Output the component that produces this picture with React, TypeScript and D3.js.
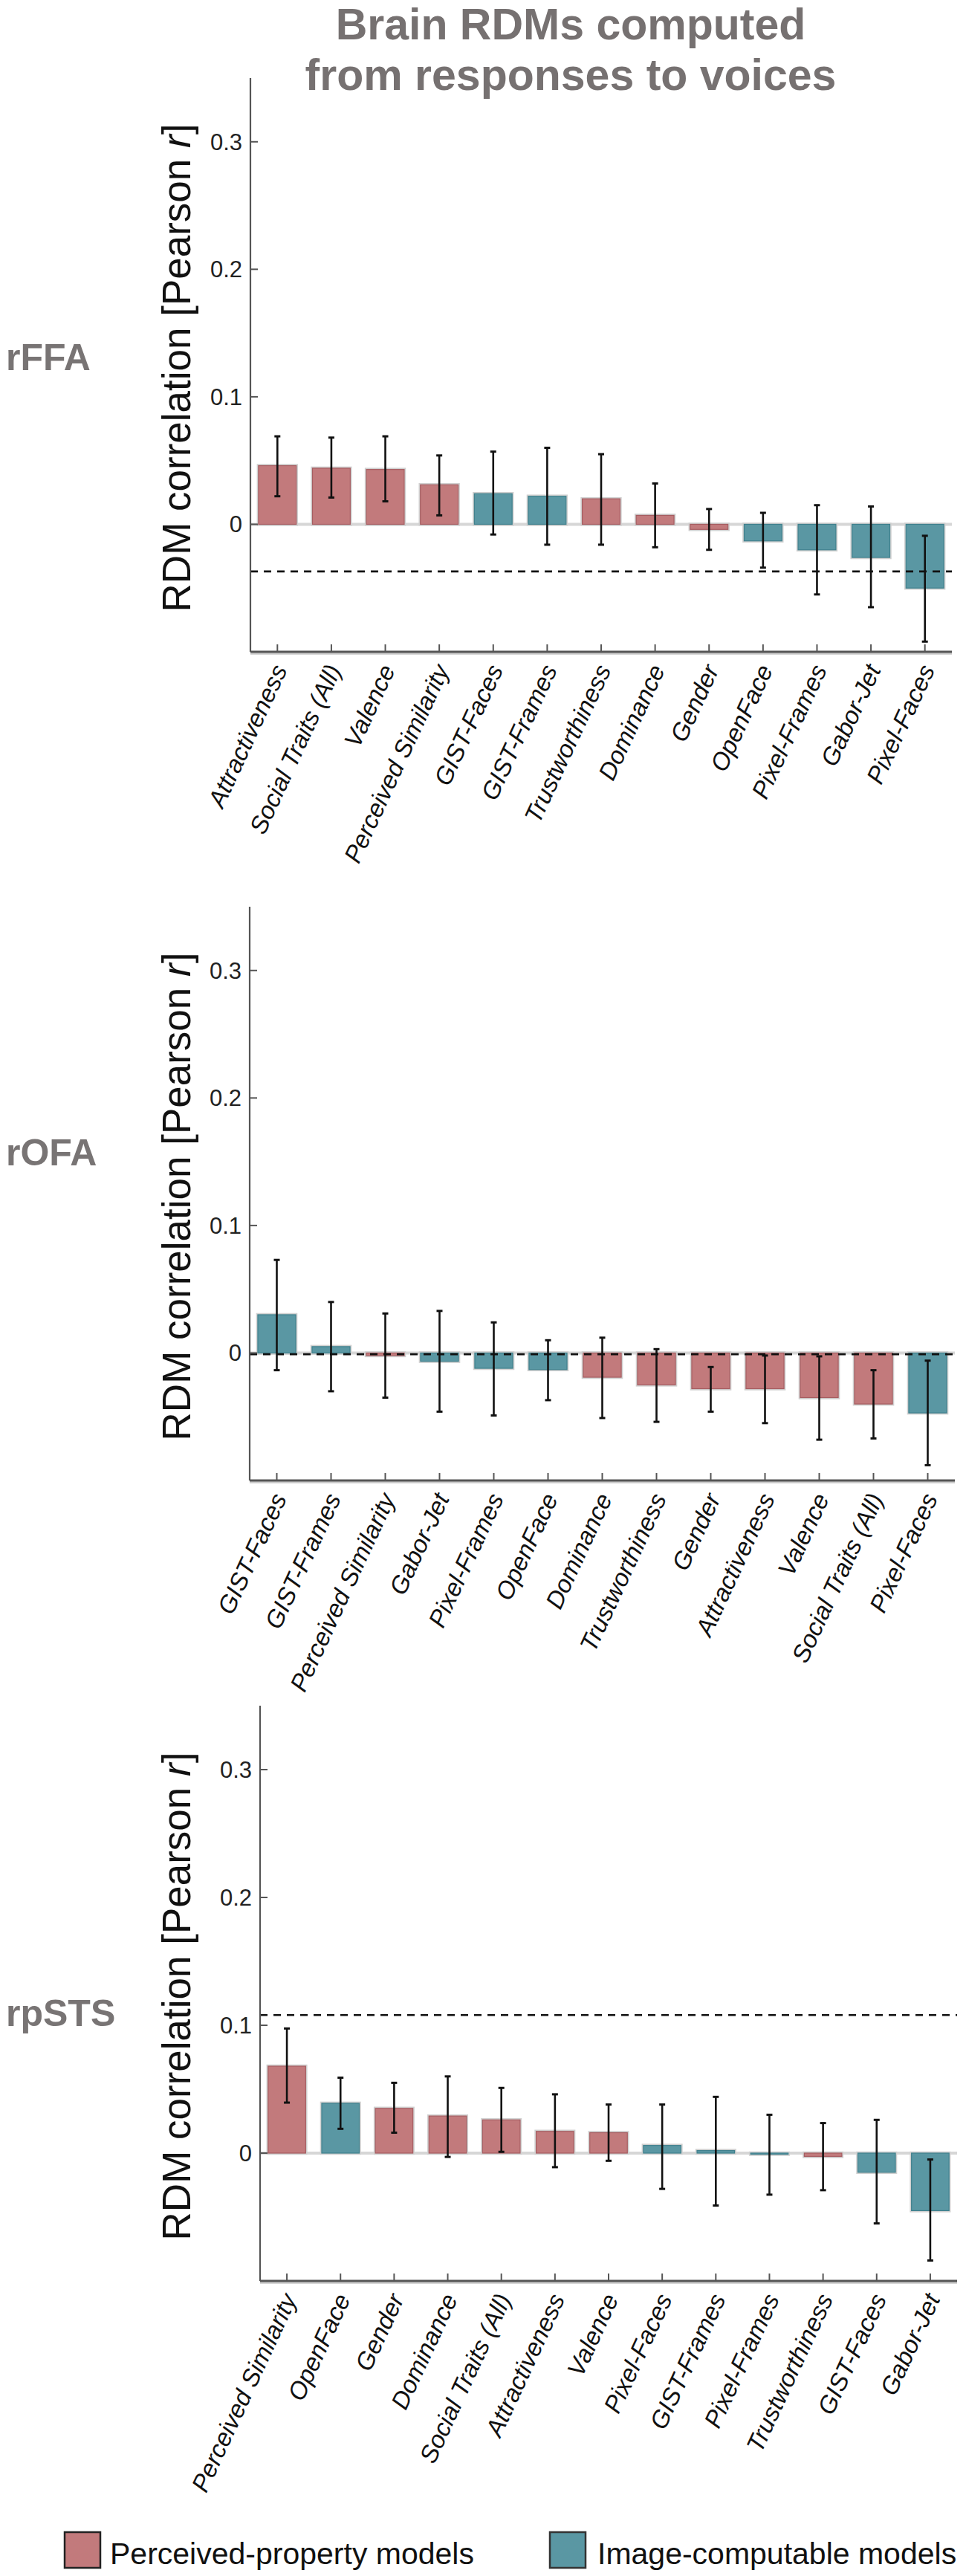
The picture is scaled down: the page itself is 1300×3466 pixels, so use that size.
import React from "react";
import * as d3 from "d3";

const regions = ["rFFA", "rOFA", "rpSTS"];

const perceivedModels = [
  "Attractiveness", "Social Traits (All)", "Valence", "Perceived Similarity",
  "Trustworthiness", "Dominance", "Gender"
];

// rFFA
const ffaModels = [
  "Attractiveness", "Social Traits (All)", "Valence", "Perceived Similarity", "GIST-Faces",
  "GIST-Frames", "Trustworthiness", "Dominance", "Gender", "OpenFace", "Pixel-Frames",
  "Gabor-Jet", "Pixel-Faces"
];
const ffaValues = [0.046, 0.044, 0.043, 0.031, 0.024, 0.022, 0.020, 0.007, -0.004, -0.013, -0.020, -0.026, -0.050];
const ffaHigh = [0.069, 0.068, 0.069, 0.054, 0.057, 0.060, 0.055, 0.032, 0.012, 0.009, 0.015, 0.014, -0.009];
const ffaLow = [0.022, 0.021, 0.018, 0.007, -0.008, -0.016, -0.016, -0.018, -0.020, -0.034, -0.055, -0.065, -0.092];
const ffaCeiling = -0.037;

// rOFA
const ofaModels = [
  "GIST-Faces", "GIST-Frames", "Perceived Similarity", "Gabor-Jet", "Pixel-Frames", "OpenFace",
  "Dominance", "Trustworthiness", "Gender", "Attractiveness", "Valence", "Social Traits (All)",
  "Pixel-Faces"
];
const ofaValues = [0.030, 0.005, -0.002, -0.0065, -0.012, -0.013, -0.019, -0.025, -0.028, -0.028, -0.035, -0.040, -0.047];
const ofaHigh = [0.073, 0.040, 0.031, 0.033, 0.024, 0.010, 0.012, 0.003, -0.011, -0.002, -0.0026, -0.0135, -0.006];
const ofaLow = [-0.0135, -0.030, -0.035, -0.046, -0.049, -0.037, -0.051, -0.054, -0.046, -0.055, -0.068, -0.067, -0.088];
const ofaCeiling = -0.001;

// rpSTS
const stsModels = [
  "Perceived Similarity", "OpenFace", "Gender", "Dominance", "Social Traits (All)", "Attractiveness",
  "Valence", "Pixel-Faces", "GIST-Frames", "Pixel-Frames", "Trustworthiness", "GIST-Faces",
  "Gabor-Jet"
];
const stsValues = [0.068, 0.039, 0.035, 0.029, 0.026, 0.017, 0.016, 0.006, 0.002, -0.0003, -0.0026, -0.015, -0.045];
const stsHigh = [0.0975, 0.059, 0.055, 0.060, 0.051, 0.046, 0.038, 0.038, 0.044, 0.030, 0.0235, 0.026, -0.005];
const stsLow = [0.0395, 0.019, 0.016, -0.003, 0.001, -0.011, -0.006, -0.028, -0.041, -0.0325, -0.029, -0.055, -0.084];
const stsCeiling = 0.108;

const yTicks = [0, 0.1, 0.2, 0.3];
const legendLabels = ["Perceived-property models", "Image-computable models"];

const RED = "#c27a7c";
const RED_EDGE = "#a65d61";
const TEAL = "#5a97a3";
const TEAL_EDGE = "#3f808d";

// layout of each axes box (pixels) and where the region name sits
const boxes = [
  { top: 105, bottom: 877, left: 337, right: 1281, labelY: 498 },
  { top: 1220, bottom: 1992, left: 336, right: 1285, labelY: 1568 },
  { top: 2295, bottom: 3069, left: 350, right: 1288, labelY: 2726 }
];

const panels = [
  { models: ffaModels, values: ffaValues, high: ffaHigh, low: ffaLow, ceiling: ffaCeiling },
  { models: ofaModels, values: ofaValues, high: ofaHigh, low: ofaLow, ceiling: ofaCeiling },
  { models: stsModels, values: stsValues, high: stsHigh, low: stsLow, ceiling: stsCeiling }
];

const FONT = "'Liberation Sans', Arial, Helvetica, sans-serif";

function Panel({ idx }: { idx: number }) {
  const p = panels[idx];
  const b = boxes[idx];
  const x = d3.scaleBand<string>()
    .domain(p.models)
    .range([b.left, b.right])
    .paddingInner(0.3)
    .paddingOuter(0.15);
  const y = d3.scaleLinear().domain([-0.1, 0.35]).range([b.bottom, b.top]);
  const bw = x.bandwidth();
  const mid = (b.top + b.bottom) / 2;
  const cap = 4;

  return (
    <g>
      <text x={8} y={b.labelY} fontFamily={FONT} fontWeight="bold" fontSize={50} fill="#787474">
        {regions[idx]}
      </text>
      <text
        transform={`translate(256,${mid + 4}) rotate(-90)`}
        textAnchor="middle"
        fontFamily={FONT}
        fontSize={53}
        fill="#111"
      >
        RDM correlation [Pearson <tspan fontStyle="italic">r</tspan>]
      </text>

      {/* zero line */}
      <line x1={b.left} x2={b.right} y1={y(0)} y2={y(0)} stroke="#d6d6d6" strokeWidth={4} />

      {p.models.map((m, i) => {
        const v = p.values[i];
        const isRed = perceivedModels.includes(m);
        const y0 = Math.min(y(v), y(0));
        const h = Math.max(Math.abs(y(v) - y(0)), 1.5);
        return (
          <g key={m}>
            <rect x={x(m)! - 1} y={y0 - 1} width={bw + 2} height={h + 2} fill="none" stroke="#d0d0d0" strokeWidth={2.5} />
            <rect
              x={x(m)}
              y={y0}
              width={bw}
              height={h}
              fill={isRed ? RED : TEAL}
              stroke={isRed ? RED_EDGE : TEAL_EDGE}
              strokeWidth={1.2}
            />
          </g>
        );
      })}

      {/* noise ceiling */}
      <line
        x1={b.left}
        x2={b.right}
        y1={y(p.ceiling)}
        y2={y(p.ceiling)}
        stroke="#111"
        strokeWidth={2.6}
        strokeDasharray="10,8"
      />

      {p.models.map((m, i) => {
        const cx = x(m)! + bw / 2;
        return (
          <g key={"e" + m} stroke="#111">
            <line x1={cx} x2={cx} y1={y(p.high[i])} y2={y(p.low[i])} strokeWidth={2.6} />
            <line x1={cx - cap} x2={cx + cap} y1={y(p.high[i])} y2={y(p.high[i])} strokeWidth={3} />
            <line x1={cx - cap} x2={cx + cap} y1={y(p.low[i])} y2={y(p.low[i])} strokeWidth={3} />
          </g>
        );
      })}

      {/* axes */}
      <line x1={b.left} x2={b.left} y1={b.top} y2={b.bottom} stroke="#555" strokeWidth={2.2} />
      <line x1={b.left} x2={b.right} y1={b.bottom + 2.5} y2={b.bottom + 2.5} stroke="#c8c8c8" strokeWidth={2.5} />
      <line x1={b.left} x2={b.right} y1={b.bottom} y2={b.bottom} stroke="#555" strokeWidth={3} />
      {yTicks.map((t) => (
        <g key={t}>
          <line x1={b.left} x2={b.left + 10} y1={y(t)} y2={y(t)} stroke="#555" strokeWidth={2} />
          <text
            x={b.left - 11}
            y={y(t) + 11}
            textAnchor="end"
            fontFamily={FONT}
            fontSize={31}
            fill="#222"
          >
            {t === 0 ? "0" : d3.format(".1f")(t)}
          </text>
        </g>
      ))}
      {p.models.map((m) => {
        const cx = x(m)! + bw / 2;
        return (
          <g key={"t" + m}>
            <line x1={cx} x2={cx} y1={b.bottom} y2={b.bottom - 10} stroke="#555" strokeWidth={2} />
            <text
              transform={`translate(${cx + 14},${b.bottom + 24}) rotate(-65)`}
              textAnchor="end"
              fontFamily={FONT}
              fontStyle="italic"
              fontSize={33}
              fill="#111"
            >
              {m}
            </text>
          </g>
        );
      })}
    </g>
  );
}

export default function App() {
  return (
    <svg
      width={1300}
      height={3466}
      style={{ position: "absolute", left: 0, top: 0, background: "#fff" }}
    >
      <rect width={1300} height={3466} fill="#fff" />
      <g fontFamily={FONT} fontWeight="bold" fontSize={59} fill="#767171" textAnchor="middle">
        <text x={768} y={53}>Brain RDMs computed</text>
        <text x={768} y={121}>from responses to voices</text>
      </g>
      {regions.map((r, i) => (
        <Panel key={r} idx={i} />
      ))}
      <g fontFamily={FONT} fontSize={41} fill="#111">
        <rect x={87} y={3407} width={48} height={48} fill={RED} stroke="#222" strokeWidth={2.5} />
        <text x={148} y={3450}>{legendLabels[0]}</text>
        <rect x={740} y={3407} width={48} height={48} fill={TEAL} stroke="#333" strokeWidth={2.5} />
        <text x={804} y={3450}>{legendLabels[1]}</text>
      </g>
    </svg>
  );
}
